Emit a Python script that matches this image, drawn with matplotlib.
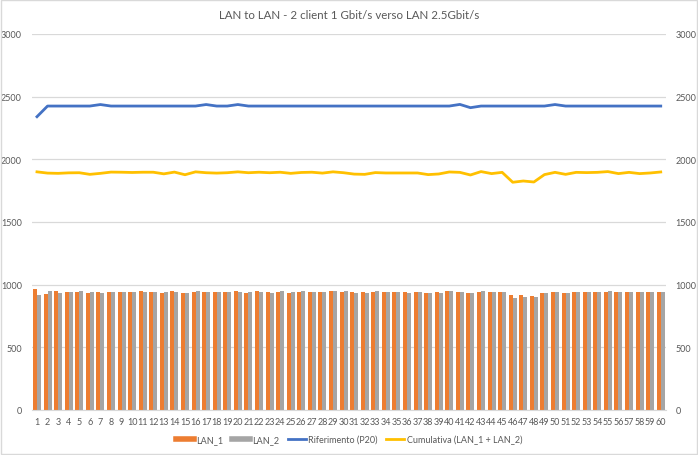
import matplotlib
matplotlib.use("Agg")
import matplotlib.pyplot as plt
from matplotlib.lines import Line2D
from matplotlib.patches import Rectangle
import numpy as np

plt.rcParams['font.family'] = ['Lato', 'DejaVu Sans']

categories = [str(i) for i in range(1, 61)]

lan_1 = [968, 929, 947, 942, 939, 934, 945, 942, 942, 942,
         947, 945, 937, 947, 937, 942, 942, 939, 939, 947,
         937, 947, 942, 942, 937, 942, 942, 939, 947, 939,
         939, 942, 939, 939, 942, 942, 939, 937, 942, 947,
         945, 934, 942, 939, 942, 921, 921, 910, 937, 942,
         937, 942, 939, 945, 942, 939, 945, 942, 942, 942]
lan_2 = [921, 950, 931, 942, 947, 942, 937, 942, 942, 942,
         945, 942, 939, 945, 937, 947, 942, 939, 942, 945,
         942, 942, 937, 947, 942, 947, 942, 939, 947, 947,
         937, 931, 950, 942, 942, 937, 945, 937, 937, 947,
         942, 934, 947, 939, 942, 894, 905, 900, 937, 942,
         937, 942, 942, 939, 950, 939, 942, 942, 942, 942]
riferimento = [2340, 2425, 2425, 2425, 2425, 2425, 2437, 2425, 2425, 2425,
               2425, 2425, 2425, 2425, 2425, 2425, 2437, 2425, 2425, 2437,
               2425, 2425, 2425, 2425, 2425, 2425, 2425, 2425, 2425, 2425,
               2425, 2425, 2425, 2425, 2425, 2425, 2425, 2425, 2425, 2425,
               2438, 2412, 2425, 2425, 2425, 2425, 2425, 2425, 2425, 2437,
               2425, 2425, 2425, 2425, 2425, 2425, 2425, 2425, 2425, 2425]
cumulativa = [1900, 1890, 1888, 1892, 1893, 1880, 1888, 1898, 1897, 1895,
              1897, 1897, 1884, 1898, 1877, 1900, 1893, 1890, 1893, 1900,
              1893, 1897, 1893, 1897, 1888, 1895, 1897, 1890, 1900, 1893,
              1882, 1880, 1894, 1891, 1891, 1891, 1891, 1878, 1883, 1899,
              1896, 1875, 1902, 1886, 1896, 1817, 1827, 1819, 1878, 1896,
              1880, 1896, 1894, 1896, 1902, 1886, 1896, 1886, 1891, 1899]

yticks = [0, 500, 1000, 1500, 2000, 2500, 3000]

C_ORANGE = '#ED7D31'
C_GRAY = '#A5A5A5'
C_BLUE = '#4472C4'
C_YELLOW = '#FFC000'
TXT = '#595959'

fig = plt.figure(figsize=(6.98, 4.56), dpi=100)
ax = fig.add_axes([0.0454, 0.0987, 0.9088, 0.8246])
x = np.arange(1, len(categories) + 1)
w = 0.38
ax.bar(x - w / 2, lan_1, width=w, color=C_ORANGE, zorder=2)
ax.bar(x + w / 2, lan_2, width=w, color=C_GRAY, zorder=2)
ax.set_xlim(0.5, 60.5)
ax.set_ylim(0, 3000)
ax.set_yticks(yticks)
ax.set_xticks(x)
ax.set_xticklabels(categories)
ax.grid(axis='y', color='#D9D9D9', linewidth=0.9, zorder=0)
ax.set_axisbelow(True)
for s in ['top', 'right', 'left']:
    ax.spines[s].set_visible(False)
ax.spines['bottom'].set_color('#D9D9D9')
ax.tick_params(axis='both', length=0, labelsize=6.5, colors=TXT)
ax.tick_params(axis='x', pad=5)
ax.tick_params(axis='y', pad=7)

ax2 = ax.twinx()
ax2.plot(x, riferimento, color=C_BLUE, linewidth=2.0, zorder=3)
ax2.plot(x, cumulativa, color=C_YELLOW, linewidth=2.0, zorder=3)
ax2.set_ylim(0, 3000)
ax2.set_yticks(yticks)
for s in ['top', 'right', 'left', 'bottom']:
    ax2.spines[s].set_visible(False)
ax2.tick_params(axis='y', length=0, labelsize=6.5, colors=TXT, pad=7)

fig.text(0.5, 0.966, 'LAN to LAN - 2 client 1 Gbit/s verso LAN 2.5Gbit/s',
         ha='center', va='center', fontsize=8.3, color=TXT)

handles = [Line2D([], [], color=C_ORANGE, linewidth=4),
           Line2D([], [], color=C_GRAY, linewidth=4),
           Line2D([], [], color=C_BLUE, linewidth=2),
           Line2D([], [], color=C_YELLOW, linewidth=2)]
labels = ['LAN_1', 'LAN_2', 'Riferimento (P20)', 'Cumulativa (LAN_1 + LAN_2)']
fig.legend(handles, labels, loc='center', bbox_to_anchor=(0.5, 0.035), ncol=4,
           frameon=False, fontsize=6.5, labelcolor=TXT, handlelength=2.0,
           handletextpad=0.3, columnspacing=0.9)

fig.patches.append(Rectangle((0.001, 0.002), 0.997, 0.995, transform=fig.transFigure,
                             fill=False, edgecolor='#D9D9D9', linewidth=1))

fig.savefig('out.png', dpi=100)
